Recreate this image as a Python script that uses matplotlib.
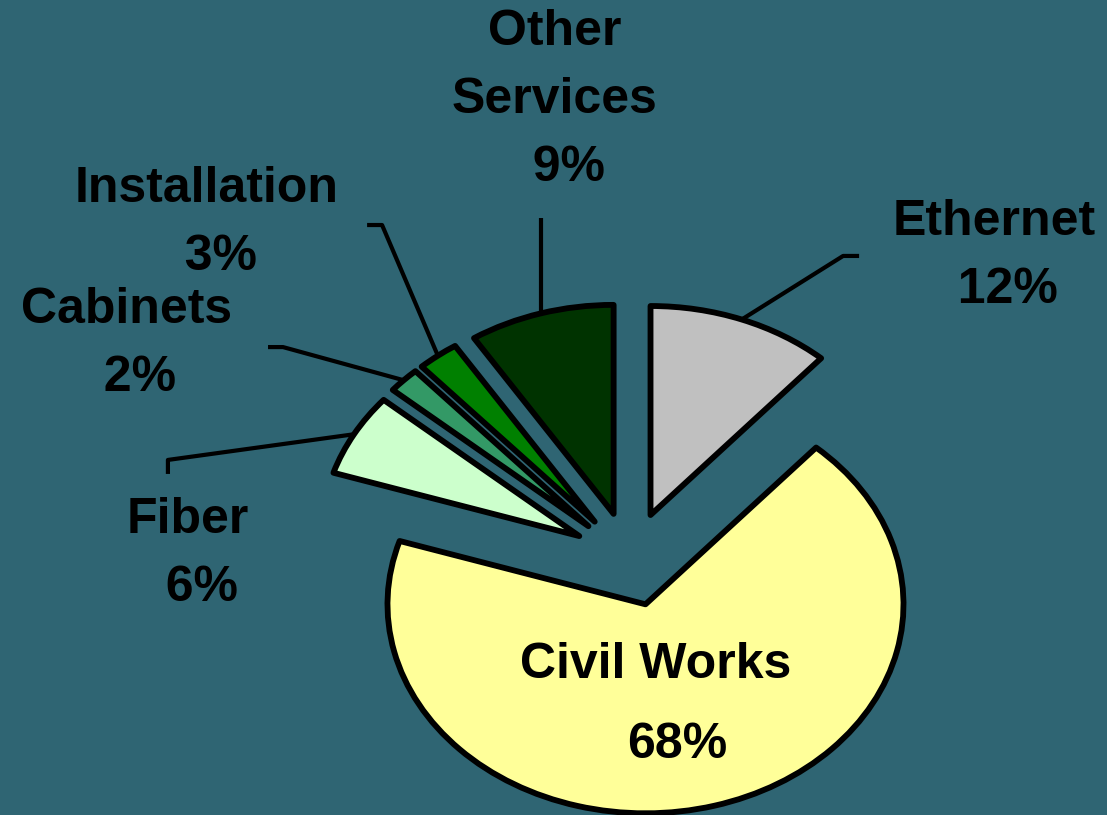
import matplotlib
matplotlib.use('Agg')
import matplotlib.pyplot as plt
import numpy as np

# ---- data ----
categories = ['Ethernet', 'Civil Works', 'Fiber', 'Cabinets', 'Installation', 'Other Services']
shares = [11.5, 68.4, 6.4, 2.0, 2.6, 9.1]
name_labels = ['Ethernet', 'Civil Works', 'Fiber', 'Cabinets', 'Installation', 'Other\nServices']
pct_labels = ['12%', '68%', '6%', '2%', '3%', '9%']

# ---- style ----
BG = '#2F6573'
colors = ['#C0C0C0', '#FFFF99', '#CCFFCC', '#339966', '#008000', '#003300']
FONT = dict(family='Liberation Sans', weight='bold', fontsize=36, color='black')

W, H = 1107, 815
fig = plt.figure(figsize=(W / 100, H / 100), dpi=100, facecolor=BG)
ax = fig.add_axes([0, 0, 1, 1])

wedges, _ = ax.pie(shares, colors=colors, explode=[0.225] * len(shares), startangle=90,
                   counterclock=False, radius=1,
                   wedgeprops=dict(edgecolor='black', linewidth=4.2, joinstyle='round'))

# elliptical pie (stretched plot area), centre ~ (630, 559) px, rx 258 px, ry 209 px
cx_px, cy_px, rx, ry = 630, 559, 258, 209
ax.set_aspect('auto')
ax.set_xlim(-cx_px / rx, (W - cx_px) / rx)
ax.set_ylim(-(H - cy_px) / ry, cy_px / ry)
ax.axis('off')


def arc_mid(w):
    a = np.deg2rad((w.theta1 + w.theta2) / 2)
    return w.center[0] + w.r * np.cos(a), w.center[1] + w.r * np.sin(a)


# leader line routes (elbow/end points) and label positions, in data units
routes = {
    'Ethernet': [(0.826, 1.450), (0.888, 1.450)],
    'Fiber': [(-1.791, 0.474), (-1.791, 0.407)],
    'Cabinets': [(-1.345, 1.014), (-1.403, 1.014)],
    'Installation': [(-0.961, 1.598), (-1.019, 1.598)],
    'Other Services': [None],
}
label_pos = {
    'Ethernet': (1.412, 1.450),
    'Fiber': (-1.713, 0.024),
    'Cabinets': (-1.953, 1.029),
    'Installation': (-1.640, 1.608),
    'Other Services': (-0.291, 2.195),
}

for w, cat, nm, pc in zip(wedges, categories, name_labels, pct_labels):
    if cat == 'Civil Works':
        ax.text(0.101, -0.507, nm, ha='center', va='center', **FONT)
        ax.text(0.182, -0.890, pc, ha='center', va='center', **FONT)
        continue
    x0, y0 = arc_mid(w)
    pts = [(x0, y0)]
    for p in routes[cat]:
        if p is None:
            pts.append((x0, 1.632))
        else:
            pts.append(p)
    xs, ys = zip(*pts)
    ax.plot(xs, ys, color='black', lw=3.0, solid_capstyle='butt', zorder=0.5)
    lx, ly = label_pos[cat]
    ax.text(lx, ly, nm + '\n  ' + pc, ha='center', va='center', multialignment='center',
            linespacing=1.61, **FONT)

fig.savefig('out.png', dpi=100, facecolor=BG)
